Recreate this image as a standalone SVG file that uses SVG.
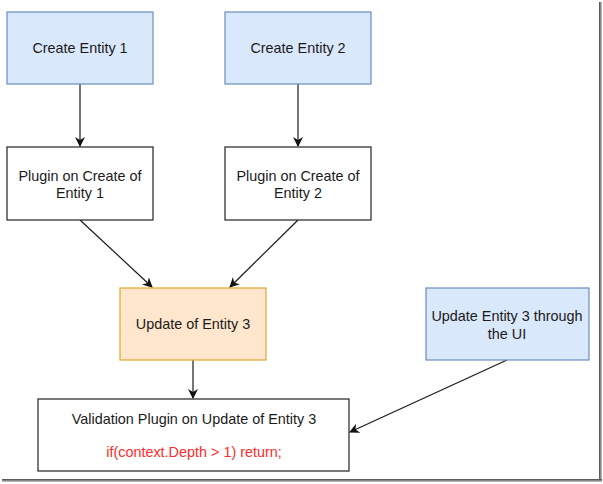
<svg xmlns="http://www.w3.org/2000/svg" width="603" height="484" viewBox="0 0 603 484">
  <style>
    .blue { fill: #dae8fc; stroke: #6c8ebf; stroke-width: 1.2; }
    .white { fill: #ffffff; stroke: #222222; stroke-width: 1.2; }
    .orange { fill: #ffe6cc; stroke: #e0a82e; stroke-width: 1.2; }
    text { font-family: "Liberation Sans", Arial, sans-serif; font-size: 14.4px; fill: #1a1a1a; text-anchor: middle; }
    .red { fill: #ff2a2a; }
    .edge { fill: none; stroke: #1a1a1a; stroke-width: 1.2; }
  </style>
  <defs>
    <marker id="arrow" viewBox="0 0 10 10" refX="9" refY="5" markerWidth="10" markerHeight="10" orient="auto" markerUnits="userSpaceOnUse">
      <path d="M0,0 L10,5 L0,10 L3,5 Z" fill="#111111"/>
    </marker>
    <linearGradient id="shR" x1="0" y1="0" x2="1" y2="0">
      <stop offset="0" stop-color="#444"/>
      <stop offset="1" stop-color="#ccc"/>
    </linearGradient>
    <linearGradient id="shB" x1="0" y1="0" x2="0" y2="1">
      <stop offset="0" stop-color="#444"/>
      <stop offset="1" stop-color="#ccc"/>
    </linearGradient>
  </defs>
  <rect x="0" y="0" width="603" height="484" fill="#ffffff"/>
  <g id="frame">
    <rect x="599" y="2" width="3" height="480" fill="url(#shR)"/>
    <rect x="2" y="479" width="600" height="3" fill="url(#shB)"/>
  </g>
  <g id="connectors">
    <path class="edge" d="M80,84 L80,146" marker-end="url(#arrow)"/>
    <path class="edge" d="M298,84 L298,146" marker-end="url(#arrow)"/>
    <path class="edge" d="M80,220 L152,287" marker-end="url(#arrow)"/>
    <path class="edge" d="M298,220 L230,287" marker-end="url(#arrow)"/>
    <path class="edge" d="M193,360 L193,398" marker-end="url(#arrow)"/>
    <path class="edge" d="M507,360 L350,432" marker-end="url(#arrow)"/>
  </g>
  <g id="create1">
    <rect class="blue" x="7" y="12" width="146" height="72"/>
    <text x="80" y="53">Create Entity 1</text>
  </g>
  <g id="create2">
    <rect class="blue" x="225" y="12" width="146" height="72"/>
    <text x="298" y="53">Create Entity 2</text>
  </g>
  <g id="plugin1">
    <rect class="white" x="7" y="147" width="146" height="73"/>
    <text x="80" y="181">Plugin on Create of</text>
    <text x="80" y="198">Entity 1</text>
  </g>
  <g id="plugin2">
    <rect class="white" x="225" y="147" width="146" height="73"/>
    <text x="298" y="181">Plugin on Create of</text>
    <text x="298" y="198">Entity 2</text>
  </g>
  <g id="update3">
    <rect class="orange" x="120" y="288" width="146" height="72"/>
    <text x="193" y="329">Update of Entity 3</text>
  </g>
  <g id="updateUI">
    <rect class="blue" x="426" y="288" width="163" height="72"/>
    <text x="507" y="321">Update Entity 3 through</text>
    <text x="507" y="339">the UI</text>
  </g>
  <g id="validation">
    <rect class="white" x="38" y="399" width="311" height="72"/>
    <text x="194" y="424">Validation Plugin on Update of Entity 3</text>
    <text class="red" x="194" y="457">if(context.Depth &gt; 1) return;</text>
  </g>
</svg>
